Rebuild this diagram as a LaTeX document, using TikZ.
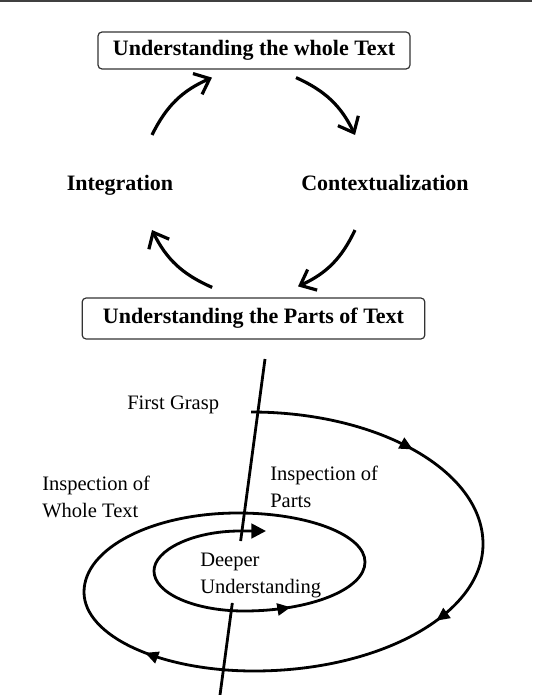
\documentclass[tikz,border=0pt]{standalone}
\usepackage{fontspec}
\setmainfont{Liberation Serif}
\usepackage{tikz}
\usetikzlibrary{arrows.meta,positioning,calc,decorations.markings}

\tikzset{
  stagebox/.style={draw=black!80, line width=0.9pt, rounded corners=3pt, inner sep=0pt,
    font=\fontsize{16.5}{20}\selectfont\bfseries},
  stagelabel/.style={inner sep=0pt, font=\fontsize{16.5}{20}\selectfont\bfseries},
  cyclearrow/.style={line width=2.4pt, bend left=20,
    -{Straight Barb[length=10pt,width=17pt,line width=2.4pt]}},
  spirallabel/.style={inner sep=0pt, align=left, font=\fontsize{15.4}{19.6}\selectfont},
  cutline/.style={line width=2.1pt},
  spiral/.style={line width=2.1pt, -{Triangle[length=11pt,width=11pt]},
    postaction={decorate}, decoration={markings,
      mark=at position 0.113 with {\arrow{Triangle[length=10pt,width=9pt]}},
      mark=at position 0.259 with {\arrow{Triangle[length=10pt,width=9pt]}},
      mark=at position 0.463 with {\arrow{Triangle[length=10pt,width=9pt]}},
      mark=at position 0.811 with {\arrowreversed{Triangle[length=10pt,width=9pt]}}}}
}

\begin{document}
\begin{tikzpicture}[x=0.75pt,y=0.75pt]
\fill[white] (0,0) rectangle (532,-695);
\useasboundingbox (0,0) rectangle (532,-695);
\draw[black!75, line width=1.5pt] (0,-1) -- (532,-1);

% hermeneutic circle
\node[stagebox, minimum width=234pt, minimum height=27.75pt] (whole) at (254,-50.5) {Understanding the whole Text};
\node[stagebox, minimum width=257pt, minimum height=30.75pt] (parts) at (253.5,-318.5) {Understanding the Parts of Text};
\node[stagelabel, anchor=base] (integ) at (120,-190.7) {Integration};
\node[stagelabel, anchor=base] (context) at (385,-190.7) {Contextualization};

\draw[cyclearrow] ([xshift=24pt,yshift=41.8pt]integ.base) to ([xshift=-31.5pt,yshift=-6pt]whole.south);
\draw[cyclearrow] ([xshift=31.5pt,yshift=-6pt]whole.south) to ([xshift=-22.5pt,yshift=41.8pt]context.base);
\draw[cyclearrow] ([xshift=-22.5pt,yshift=-29.5pt]context.base) to ([xshift=33.4pt,yshift=8.25pt]parts.north);
\draw[cyclearrow] ([xshift=-31pt,yshift=7.5pt]parts.north) to ([xshift=24pt,yshift=-29.5pt]integ.base);

% spiral
\coordinate (cuttop) at (265,-359);
\coordinate (cutbot) at (220,-695);
\draw[cutline] (cuttop) -- ($(cuttop)!0.5417!(cutbot)$);
\draw[cutline] ($(cuttop)!0.726!(cutbot)$) -- (cutbot);

\draw[spiral] (251,-412)
  .. controls (379,-412) and (483,-471) .. (483,-544)
  .. controls (483,-614) and (380,-671) .. (254,-671)
  .. controls (160,-671) and (84,-636) .. (84,-592)
  .. controls (84,-548) and (153,-513) .. (238,-513)
  .. controls (308,-513) and (365,-535) .. (365,-562)
  .. controls (365,-589) and (311,-611) .. (244,-611)
  .. controls (194,-611) and (154,-593) .. (154,-571)
  .. controls (154,-550) and (193,-531) .. (240,-531)
  -- (266,-531);

\node[spirallabel, anchor=base west] (grasp) at (127,-409) {First Grasp};
\node[spirallabel, anchor=base west] (inwhole) at (42,-517) {Inspection of\\Whole Text};
\node[spirallabel, anchor=base west] (inparts) at (270,-507) {Inspection of\\Parts};
\node[spirallabel, anchor=base west] (deeper) at (200,-593) {Deeper\\Understanding};
\end{tikzpicture}
\end{document}
